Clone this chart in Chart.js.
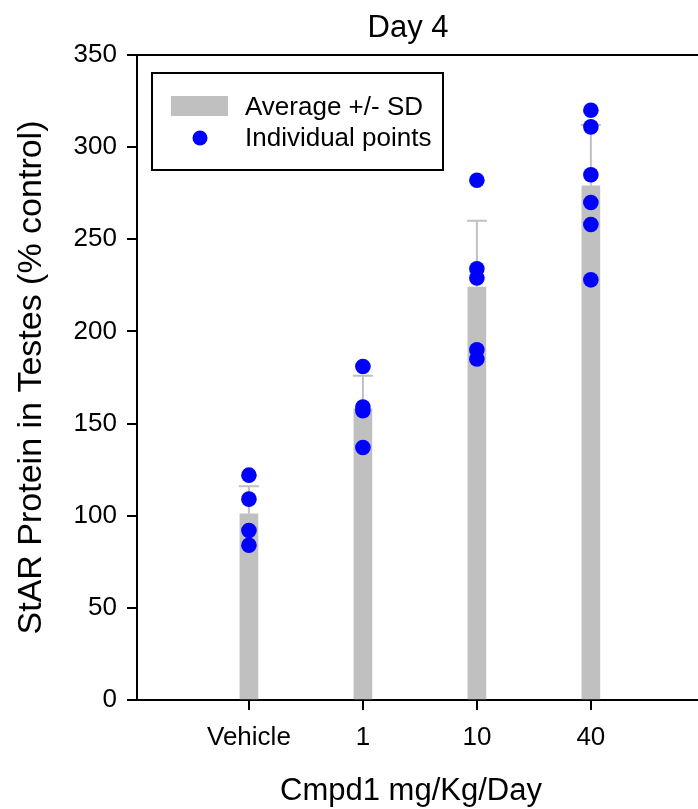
<!DOCTYPE html>
<html lang="en">
<head>
  <meta charset="UTF-8">
  <title>Day 4 - StAR Protein</title>
  <script src="https://cdn.jsdelivr.net/npm/chart.js"></script>
  <style>
    body {
      margin: 0;
      padding: 0;
      background: #fff;
    }
  </style>
</head>
<body>
  <canvas id="starChart" width="698" height="809"></canvas>

  <script>
    // groups on the x axis
    const groups = ["Vehicle", "1", "10", "40"];

    // bar heights and upper SD
    const means = [101, 158, 224, 279];
    const sds = [15, 18, 36, 33];

    // individual points per group
    const vehiclePts = [122, 109, 92, 84];
    const dose1Pts = [181, 159, 157, 137];
    const dose10Pts = [282, 234, 229, 190, 185];
    const dose40Pts = [320, 311, 285, 270, 258, 228];

    const yTicks = [0, 50, 100, 150, 200, 250, 300, 350];

    const FONT = "'Liberation Sans', Arial, sans-serif";
    const GREY = "#c0c0c0";
    const BLUE = "#0000ff";

    const allPts = [vehiclePts, dose1Pts, dose10Pts, dose40Pts];
    const scatterData = [];
    allPts.forEach((pts, i) => pts.forEach(v => scatterData.push({ x: i, y: v })));

    // upper error bar, drawn right after the bars so the points sit on top
    const errorBars = {
      id: "errorBars",
      afterDatasetDraw(chart, args) {
        if (args.index !== 0) return;
        const ctx = chart.ctx;
        const xs = chart.scales.x, ys = chart.scales.y;
        ctx.save();
        ctx.strokeStyle = GREY;
        ctx.lineWidth = 2;
        means.forEach((m, i) => {
          const px = xs.getPixelForValue(i);
          const y0 = ys.getPixelForValue(m);
          const y1 = ys.getPixelForValue(m + sds[i]);
          ctx.beginPath();
          ctx.moveTo(px, y0);
          ctx.lineTo(px, y1);
          ctx.moveTo(px - 10, y1);
          ctx.lineTo(px + 10, y1);
          ctx.stroke();
        });
        ctx.restore();
      }
    };

    // title, top frame line, x tick marks and the boxed legend
    const decorations = {
      id: "decorations",
      afterDraw(chart) {
        const ctx = chart.ctx;
        const a = chart.chartArea;
        const xs = chart.scales.x;
        ctx.save();

        ctx.strokeStyle = "#000";
        ctx.lineWidth = 2;
        ctx.beginPath();
        ctx.moveTo(a.left, a.top);
        ctx.lineTo(a.right, a.top);
        groups.forEach((g, i) => {
          const px = Math.round(xs.getPixelForValue(i));
          ctx.moveTo(px, a.bottom);
          ctx.lineTo(px, a.bottom + 10);
        });
        ctx.stroke();

        ctx.fillStyle = "#000";
        ctx.font = "31px " + FONT;
        ctx.textAlign = "center";
        ctx.textBaseline = "alphabetic";
        ctx.fillText("Day 4", 408, 37);

        // x axis title, sits a little left of the plot centre
        ctx.font = "31px " + FONT;
        ctx.fillText("Cmpd1 mg/Kg/Day", 411, 800);

        // legend box
        const lx = a.left + 15, ly = a.top + 18;
        ctx.lineWidth = 2;
        ctx.strokeRect(lx, ly, 291, 97);

        ctx.fillStyle = GREY;
        ctx.fillRect(lx + 19, ly + 23, 57, 20);

        ctx.fillStyle = BLUE;
        ctx.beginPath();
        ctx.arc(lx + 48, ly + 65, 7.5, 0, Math.PI * 2);
        ctx.fill();

        ctx.fillStyle = "#000";
        ctx.font = "26px " + FONT;
        ctx.textAlign = "left";
        ctx.textBaseline = "middle";
        ctx.fillText("Average +/- SD", lx + 93, ly + 35);
        ctx.fillText("Individual points", lx + 93, ly + 66);
        ctx.restore();
      }
    };

    new Chart(document.getElementById("starChart"), {
      data: {
        datasets: [
          {
            type: "bar",
            label: "Average +/- SD",
            data: means.map((m, i) => ({ x: i, y: m })),
            backgroundColor: GREY,
            barThickness: 18,
            order: 1
          },
          {
            type: "scatter",
            label: "Individual points",
            data: scatterData,
            backgroundColor: BLUE,
            borderWidth: 0,
            pointRadius: 7.8,
            order: 0
          }
        ]
      },
      options: {
        responsive: false,
        animation: false,
        layout: { autoPadding: false, padding: { top: 55, left: 0, right: 0, bottom: 0 } },
        plugins: {
          legend: { display: false },
          tooltip: { enabled: false },
          title: { display: false }
        },
        scales: {
          x: {
            type: "linear",
            min: -0.982,
            max: 3.94,
            offset: false,
            afterFit(scale) {
              scale.height = 109;
              scale.paddingLeft = 0;
              scale.paddingRight = 0;
            },
            afterBuildTicks(scale) {
              scale.ticks = groups.map((g, i) => ({ value: i }));
            },
            ticks: {
              callback: (v) => groups[v],
              color: "#000",
              font: { family: FONT, size: 26 },
              padding: 12,
              maxRotation: 0
            },
            grid: {
              offset: false,
              drawOnChartArea: false,
              drawTicks: true,
              tickLength: 10,
              color: "#000",
              lineWidth: 2
            },
            border: { display: true, color: "#000", width: 2 }
          },
          y: {
            min: 0,
            max: 350,
            afterFit(scale) { scale.width = 137; },
            afterBuildTicks(scale) {
              scale.ticks = yTicks.map(v => ({ value: v }));
            },
            ticks: {
              color: "#000",
              font: { family: FONT, size: 26 },
              padding: 10
            },
            grid: {
              drawOnChartArea: false,
              drawTicks: true,
              tickLength: 10,
              color: "#000",
              lineWidth: 2
            },
            border: { display: true, color: "#000", width: 2 },
            title: {
              display: true,
              text: "StAR Protein in Testes (% control)",
              color: "#000",
              font: { family: FONT, size: 34 },
              padding: { top: 11, bottom: 0 }
            }
          }
        }
      },
      plugins: [errorBars, decorations]
    });
  </script>
</body>
</html>
